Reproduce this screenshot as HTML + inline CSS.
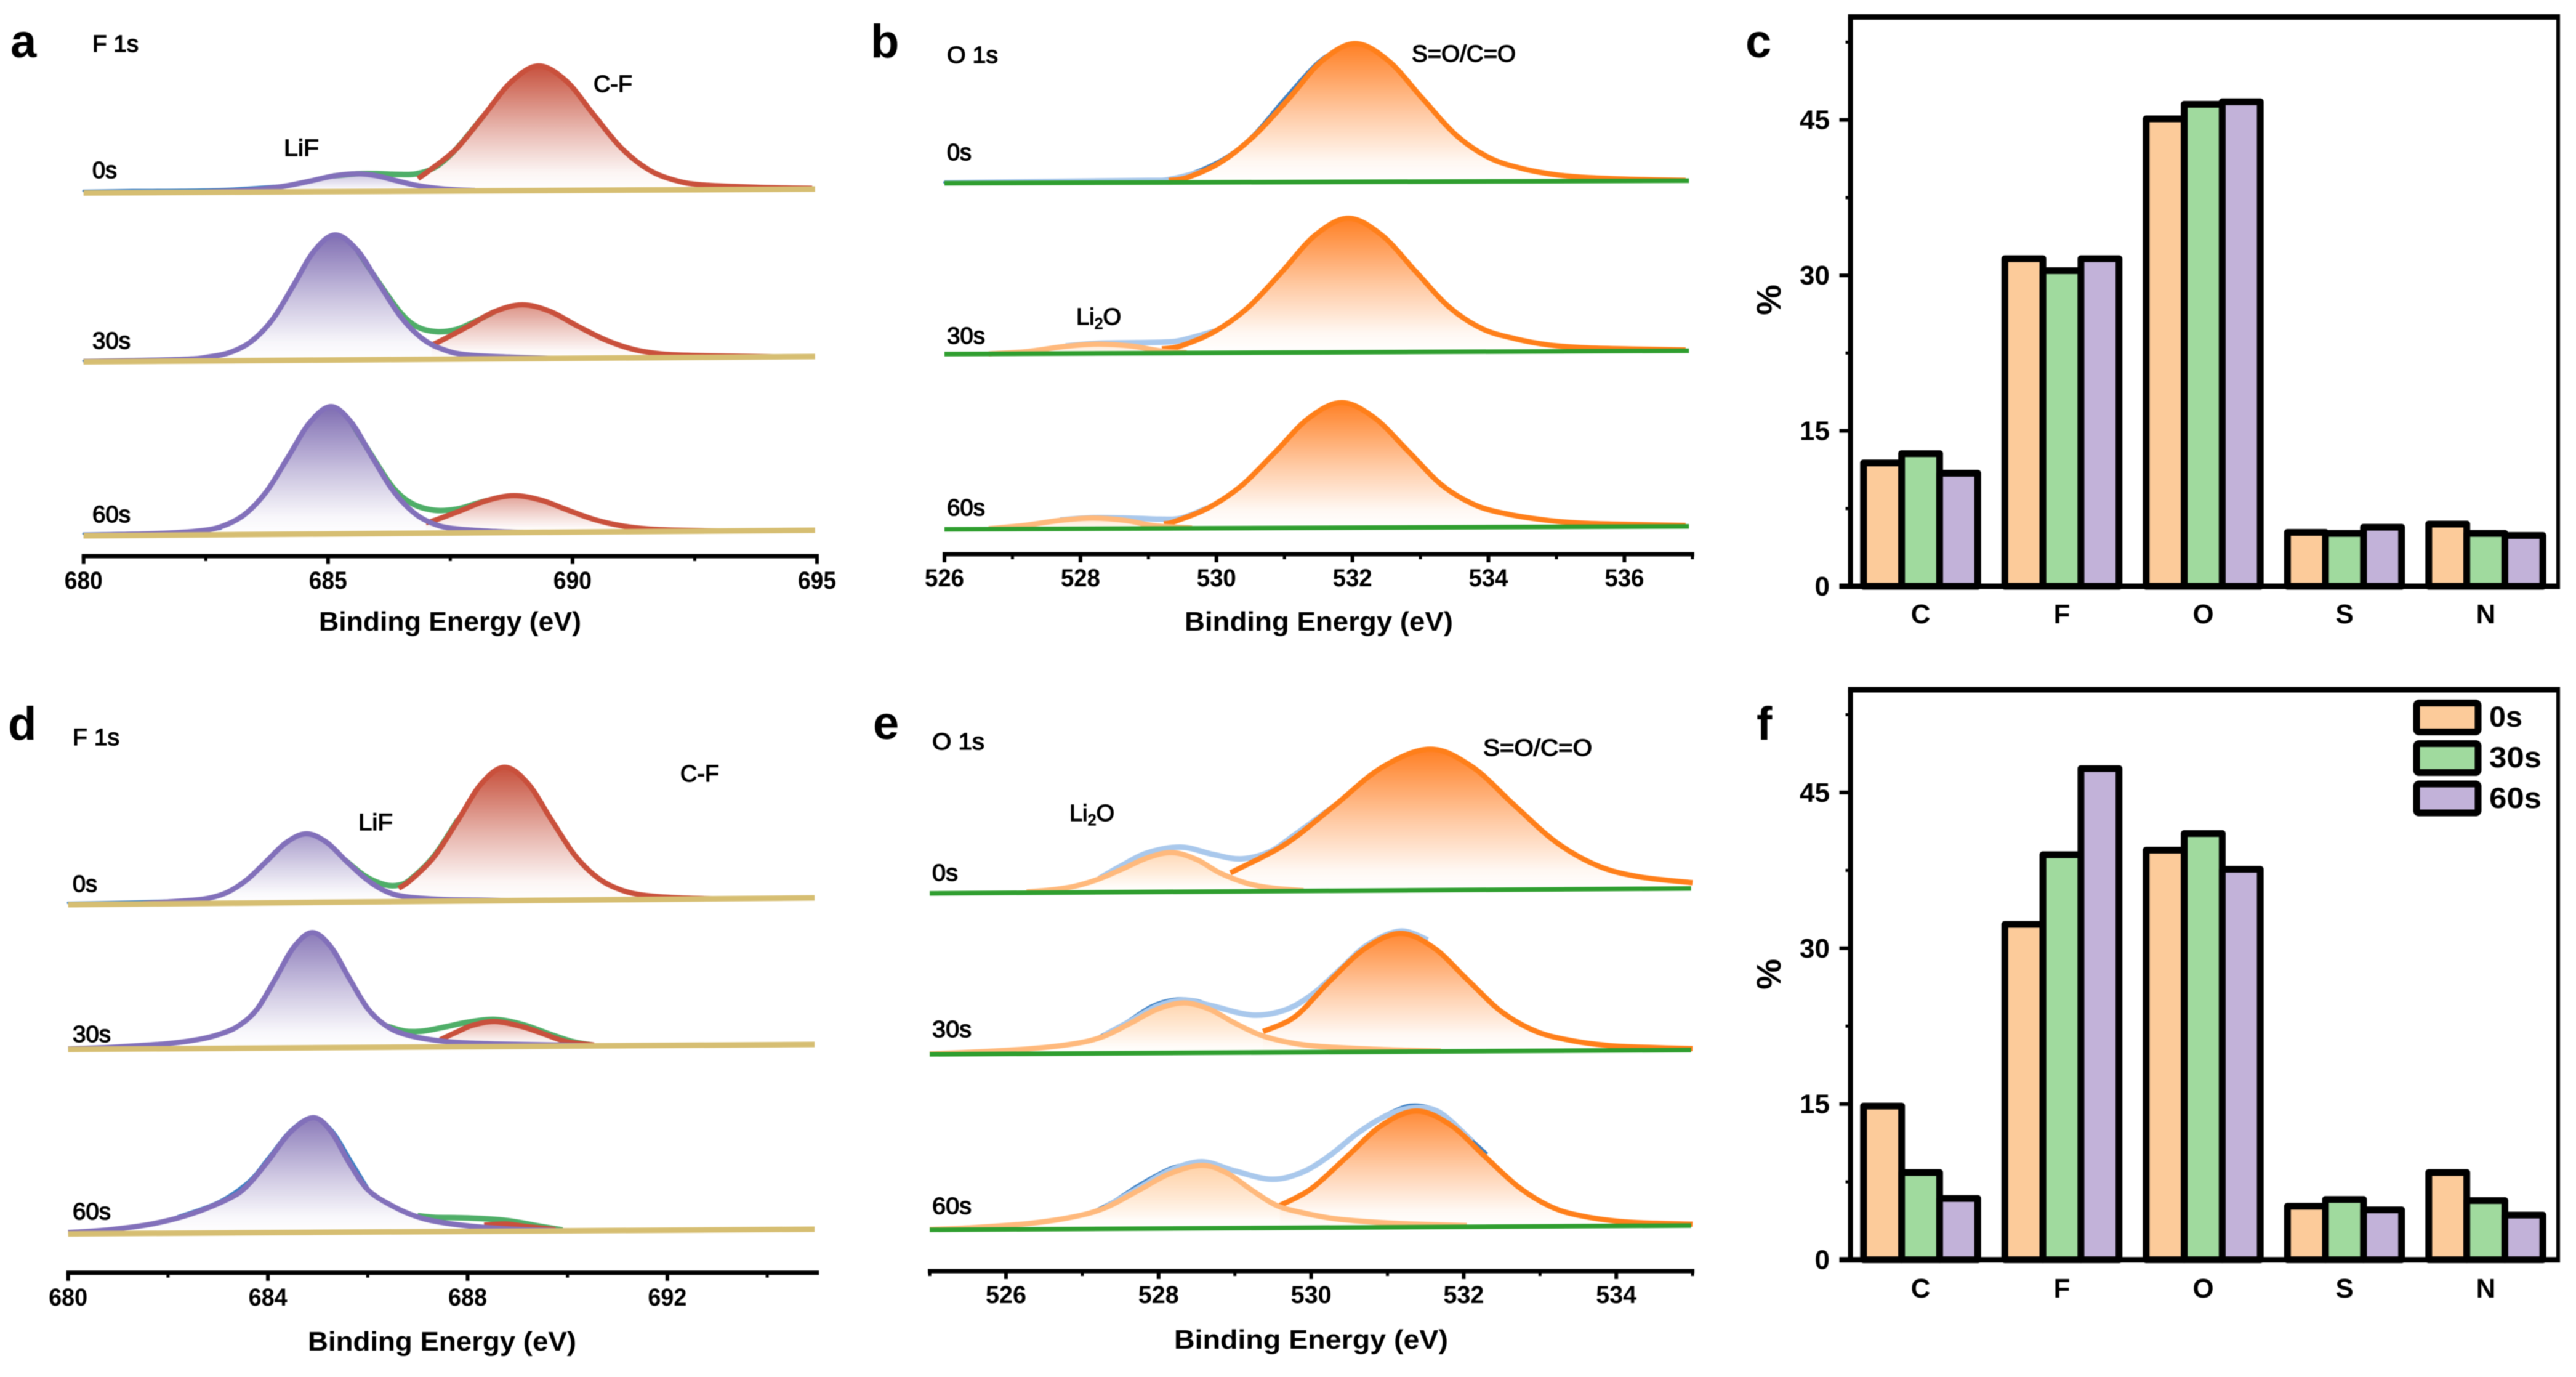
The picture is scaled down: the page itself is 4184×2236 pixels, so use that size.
<!DOCTYPE html>
<html lang="en">
<head>
<meta charset="utf-8">
<title>XPS spectra and elemental composition</title>
<style>
html,body{margin:0;padding:0;background:#fff;width:4184px;height:2236px;overflow:hidden}
svg{display:block;filter:blur(.9px)}
text{font-family:"Liberation Sans",sans-serif;fill:#000}
.letter{font-weight:700;font-size:76px}
.ann{font-weight:400;font-size:38px;stroke:#000;stroke-width:1.3}
.tick{font-weight:700;font-size:40px;text-anchor:middle}
.title{font-weight:700;font-size:44px}
.ylab{font-weight:700;font-size:44px;text-anchor:end}
.cat{font-weight:700;font-size:44px;text-anchor:middle}
.leg{font-weight:700;font-size:47px}
</style>
</head>
<body>
<svg id="fig" xmlns="http://www.w3.org/2000/svg" width="4184" height="2236" viewBox="0 0 4184 2236">
<defs>
<linearGradient id="grad-red" x1="0" y1="0" x2="0" y2="1"><stop offset="0" stop-color="#c64f3b"/><stop offset=".5" stop-color="#c64f3b" stop-opacity=".42"/><stop offset=".85" stop-color="#c64f3b" stop-opacity=".06"/><stop offset="1" stop-color="#c64f3b" stop-opacity="0"/></linearGradient>
<linearGradient id="grad-purple" x1="0" y1="0" x2="0" y2="1"><stop offset="0" stop-color="#7f6db2"/><stop offset=".5" stop-color="#7f6db2" stop-opacity=".42"/><stop offset=".85" stop-color="#7f6db2" stop-opacity=".06"/><stop offset="1" stop-color="#7f6db2" stop-opacity="0"/></linearGradient>
<linearGradient id="grad-orange" x1="0" y1="0" x2="0" y2="1"><stop offset="0" stop-color="#ff7f24"/><stop offset=".5" stop-color="#ff7f24" stop-opacity=".42"/><stop offset=".85" stop-color="#ff7f24" stop-opacity=".06"/><stop offset="1" stop-color="#ff7f24" stop-opacity="0"/></linearGradient>
<linearGradient id="grad-peach" x1="0" y1="0" x2="0" y2="1"><stop offset="0" stop-color="#ffb877"/><stop offset=".5" stop-color="#ffb877" stop-opacity=".5"/><stop offset=".85" stop-color="#ffb877" stop-opacity=".08"/><stop offset="1" stop-color="#ffb877" stop-opacity="0"/></linearGradient>
</defs>
<g id="marks"></g>

<text class="letter" x="17" y="93">a</text>
<text class="ann" x="150" y="84" textLength="75" lengthAdjust="spacingAndGlyphs">F 1s</text>
<text class="ann" x="150" y="289" textLength="40" lengthAdjust="spacingAndGlyphs">0s</text>
<text class="ann" x="150" y="566" textLength="62" lengthAdjust="spacingAndGlyphs">30s</text>
<text class="ann" x="150" y="848" textLength="62" lengthAdjust="spacingAndGlyphs">60s</text>
<text class="ann" x="461" y="253" textLength="57" lengthAdjust="spacingAndGlyphs">LiF</text>
<text class="ann" x="964" y="149" textLength="63" lengthAdjust="spacingAndGlyphs">C-F</text>
<text class="title" x="518" y="1024" textLength="426" lengthAdjust="spacingAndGlyphs">Binding Energy (eV)</text>

<text class="letter" x="1414" y="93">b</text>
<text class="ann" x="1538" y="102" textLength="83" lengthAdjust="spacingAndGlyphs">O 1s</text>
<text class="ann" x="1538" y="260" textLength="40" lengthAdjust="spacingAndGlyphs">0s</text>
<text class="ann" x="1538" y="558" textLength="62" lengthAdjust="spacingAndGlyphs">30s</text>
<text class="ann" x="1538" y="837" textLength="62" lengthAdjust="spacingAndGlyphs">60s</text>
<text class="ann" x="2293" y="100" textLength="169" lengthAdjust="spacingAndGlyphs">S=O/C=O</text>
<text class="ann" x="1748" y="527">Li<tspan font-size="25" dy="7">2</tspan><tspan dy="-7">O</tspan></text>
<text class="title" x="1924" y="1024" textLength="436" lengthAdjust="spacingAndGlyphs">Binding Energy (eV)</text>

<text class="letter" x="2835" y="93">c</text>
<text font-weight="700" font-size="56" text-anchor="middle" transform="translate(2892,487) rotate(-90)">%</text>

<text class="letter" x="13" y="1201">d</text>
<text class="ann" x="118" y="1210" textLength="76" lengthAdjust="spacingAndGlyphs">F 1s</text>
<text class="ann" x="118" y="1448" textLength="40" lengthAdjust="spacingAndGlyphs">0s</text>
<text class="ann" x="118" y="1692" textLength="62" lengthAdjust="spacingAndGlyphs">30s</text>
<text class="ann" x="118" y="1980" textLength="62" lengthAdjust="spacingAndGlyphs">60s</text>
<text class="ann" x="582" y="1348" textLength="56" lengthAdjust="spacingAndGlyphs">LiF</text>
<text class="ann" x="1105" y="1269" textLength="63" lengthAdjust="spacingAndGlyphs">C-F</text>
<text class="title" x="500" y="2193" textLength="436" lengthAdjust="spacingAndGlyphs">Binding Energy (eV)</text>

<text class="letter" x="1418" y="1200">e</text>
<text class="ann" x="1514" y="1217" textLength="85" lengthAdjust="spacingAndGlyphs">O 1s</text>
<text class="ann" x="1514" y="1430" textLength="42" lengthAdjust="spacingAndGlyphs">0s</text>
<text class="ann" x="1514" y="1684" textLength="64" lengthAdjust="spacingAndGlyphs">30s</text>
<text class="ann" x="1514" y="1971" textLength="64" lengthAdjust="spacingAndGlyphs">60s</text>
<text class="ann" x="2409" y="1227" textLength="177" lengthAdjust="spacingAndGlyphs">S=O/C=O</text>
<text class="ann" x="1737" y="1333">Li<tspan font-size="25" dy="7">2</tspan><tspan dy="-7">O</tspan></text>
<text class="title" x="1907" y="2190" textLength="445" lengthAdjust="spacingAndGlyphs">Binding Energy (eV)</text>

<text class="letter" x="2853" y="1201">f</text>
<text font-weight="700" font-size="56" text-anchor="middle" transform="translate(2892,1582) rotate(-90)">%</text>

<g id="legend">
<rect x="3925" y="1141.5" width="100" height="47" rx="4" fill="#fccb9a" stroke="#000" stroke-width="11"/>
<rect x="3925" y="1207.5" width="100" height="47" rx="4" fill="#a0da9e" stroke="#000" stroke-width="11"/>
<rect x="3925" y="1273" width="100" height="47" rx="4" fill="#c2b2d9" stroke="#000" stroke-width="11"/>
<text class="leg" x="4043" y="1180" textLength="54" lengthAdjust="spacingAndGlyphs">0s</text>
<text class="leg" x="4043" y="1246" textLength="85" lengthAdjust="spacingAndGlyphs">30s</text>
<text class="leg" x="4043" y="1312" textLength="85" lengthAdjust="spacingAndGlyphs">60s</text>
</g>
</svg>

<script>
// ---------- tick values ----------
const aTicks=[680,685,690,695];
const aMinor=[682.5,687.5,692.5];
const bTicks=[526,528,530,532,534,536];
const bMinor=[527,529,531,533,535,537];
const dTicks=[680,684,688,692];
const dMinor=[682,686,690,694];
const eTicks=[526,528,530,532,534];
const eMinor=[525,527,529,531,533,535];
const pctTicks=[0,15,30,45];
const pctMinor=[7.5,22.5,37.5,52.5];
const elements=['C','F','O','S','N'];

// ---------- panel a: [binding energy, intensity] ----------
const a0CF=[[686.84,30],[687.05,47],[687.62,99],[688.18,177],[688.75,257],[689.31,294],[689.88,257],[690.44,177],[691,99],[691.57,47],[692.14,21],[692.7,11],[693.8,5],[694.9,2]];
const a0LiF=[[682.5,1],[683.15,3],[683.64,7],[684.13,14],[684.62,25],[685.11,37],[685.6,42],[686,37],[686.4,25],[686.8,14],[687.2,7],[687.6,3],[688,1]];
const a0Env=[[685.11,37],[685.6,42],[686,42],[686.4,40],[686.8,41],[687.2,57],[687.62,99],[688.18,177]];
const a0Raw=[[680,5],[681,6],[682,6],[683,8],[684,15]];
const a1CF=[[687.12,34],[687.3,43],[687.85,76],[688.4,111],[688.97,127],[689.54,111],[690.1,76],[690.67,43],[691.24,20],[691.8,9],[692.4,5],[693.5,2],[694.2,0]];
const a1LiF=[[680,1],[682,4],[682.6,10],[683.03,21],[683.45,47],[683.88,99],[684.3,178],[684.72,258],[685.15,295],[685.6,258],[686.05,178],[686.5,99],[686.95,47],[687.4,21],[687.85,10],[688.7,4],[689.6,0]];
const a1Env=[[685.6,258],[686.05,180],[686.5,108],[686.84,76],[687.23,65],[687.62,70],[688,88],[688.4,111]];
const a1Raw=[[680,2],[681,5],[682,7],[682.8,12],[683.1,22]];
const a2CF=[[687,25],[687.15,29],[687.7,52],[688.25,76],[688.8,87],[689.35,76],[689.9,52],[690.45,29],[691,14],[691.55,6],[692.1,3],[693,0]];
const a2LiF=[[680,1],[681.5,4],[682.4,10],[682.86,21],[683.3,48],[683.74,101],[684.18,181],[684.62,262],[685.06,300],[685.48,262],[685.9,181],[686.33,101],[686.76,48],[687.18,21],[687.6,10],[688.4,3],[689,0]];
const a2Env=[[685.48,262],[685.9,183],[686.33,108],[686.72,70],[687.17,54],[687.62,56],[688,68],[688.25,76]];
const a2Raw=[[680,5],[681,6],[682,7],[682.8,14]];

// ---------- panel b ----------
const b0SO=[[529.3,5],[529.58,12],[530.07,48],[530.56,110],[531.06,196],[531.55,285],[532.04,326],[532.53,285],[533.03,196],[533.52,110],[534.01,56],[534.5,30],[535,15],[535.5,8],[536.1,4],[536.9,1]];
const b0Env=[[526,1],[528,4],[529,5],[529.3,7],[529.8,26]];
const b0Raw=[[526,2],[527.5,5],[528.5,7],[529.3,9],[530,48],[530.5,106],[531,198],[531.5,285],[531.9,322]];
const b1SO=[[529.2,10],[529.48,17],[529.97,50],[530.46,106],[530.96,190],[531.45,276],[531.94,316],[532.43,276],[532.93,190],[533.42,106],[533.91,54],[534.4,30],[534.9,15],[535.46,8],[536.1,5],[536.9,2]];
const b1Li2O=[[526.65,0],[527.2,5],[527.78,17],[528.26,22],[528.75,17],[529.15,6],[529.56,1]];
const b1Env=[[527.78,18],[528.26,24],[528.83,25],[529.23,26],[529.48,30],[529.97,51]];
const b2SO=[[529.23,11],[529.38,16],[529.87,47],[530.36,99],[530.86,178],[531.35,258],[531.84,295],[532.33,258],[532.83,178],[533.32,99],[533.81,52],[534.3,30],[534.9,15],[535.46,8],[536.1,5],[536.9,2]];
const b2Li2O=[[526.65,1],[527.2,9],[527.7,20],[528.18,25],[528.67,19],[529.07,7],[529.64,1]];
const b2Env=[[527.7,21],[528.18,26],[528.83,24],[529.15,22],[529.48,24],[529.87,48]];

// ---------- panel d ----------
const d0CF=[[686.62,30],[686.86,48],[687.33,100],[687.8,180],[688.27,262],[688.74,299],[689.21,262],[689.68,180],[690.15,100],[690.62,48],[691.09,21],[691.56,9],[692.2,3],[693,0]];
const d0LiF=[[681.5,1],[682.3,6],[682.78,11],[683.18,24],[683.58,52],[683.97,93],[684.37,135],[684.77,154],[685.17,135],[685.56,93],[685.96,52],[686.35,24],[686.75,11],[687.5,4],[688.2,2],[688.8,0]];
const d0Env=[[685.56,93],[685.96,57],[686.35,38],[686.62,37],[686.86,50],[687.33,102],[687.8,182]];
const d0Raw=[[680,4],[681,5],[682,7],[682.6,10]];
const d1CF=[[687.45,16],[687.78,33],[688.1,48],[688.55,56],[689.1,44],[689.54,27],[689.98,10],[690.53,2]];
const d1LiF=[[680,1],[680.84,4],[681.94,11],[682.6,20],[683.04,32],[683.41,50],[683.78,87],[684.15,155],[684.52,226],[684.89,258],[685.26,226],[685.63,155],[686,87],[686.37,48],[686.74,29],[687.23,17],[687.78,10],[688.55,6],[689.65,3],[690.5,0]];
const d1Env=[[686.37,48],[686.74,36],[687.12,36],[687.56,45],[688,55],[688.55,61],[689.1,49],[689.65,27],[690.1,10],[690.5,2]];
const d2CF=[[688.33,14],[688.77,16],[689.2,10],[689.76,3]];
const d2LiF=[[680,3],[680.84,9],[681.72,22],[682.5,44],[683.26,79],[683.6,107],[684,160],[684.45,225],[684.91,257],[685.27,225],[685.63,155],[686,95],[686.46,60],[687,33],[687.56,19],[688.33,9],[689.2,3],[690.1,0]];
const d2Env=[[687,36],[687.34,32],[688,30],[688.77,24],[689.43,11],[689.9,2]];
const d2Raw=[[682.2,38],[683,70],[683.6,115],[684,168],[684.45,230],[684.91,260],[685.3,228],[685.65,165],[686,100]];

// ---------- panel e ----------
const e0SO=[[528.94,42],[529.04,50],[529.67,106],[530.3,190],[530.93,276],[531.56,316],[532.11,276],[532.66,190],[533.21,106],[533.76,52],[534.3,27],[535,13]];
const e0Li2O=[[526.27,2],[526.58,6],[526.9,14],[527.22,30],[527.54,53],[527.86,77],[528.18,88],[528.5,72],[528.8,42],[529.16,18],[529.5,7],[529.9,1]];
const e0Env=[[527.22,31],[527.5,58],[527.86,88],[528.3,100],[528.72,83],[529.08,73],[529.45,88],[529.8,128],[530.3,190]];
const e1SO=[[529.37,47],[529.79,80],[530.25,160],[530.71,232],[531.17,265],[531.61,232],[532.05,160],[532.49,89],[532.93,45],[533.37,24],[533.9,11],[534.5,6],[535,3]];
const e1Li2O=[[525,1],[525.5,4],[526.3,11],[526.9,22],[527.28,38],[527.63,67],[527.98,98],[528.33,112],[528.66,98],[528.99,67],[529.32,40],[529.65,24],[530.1,13],[530.96,5],[531.7,1]];
const e1Env=[[527.28,40],[527.63,72],[527.98,105],[528.33,118],[528.7,105],[529.23,84],[529.66,95],[530.02,130],[530.38,185],[530.74,240],[531.17,270],[531.53,250]];
const e1Raw=[[527.2,36],[527.55,68],[527.9,106],[528.2,121],[528.5,118],[528.8,100],[529.1,90]];
const e2SO=[[529.59,50],[530,87],[530.46,157],[530.92,228],[531.38,260],[531.83,228],[532.28,157],[532.73,87],[533.18,41],[533.63,20],[534.2,8],[535,3]];
const e2Li2O=[[525,1],[525.5,4],[526.3,13],[526.88,27],[527.3,47],[527.73,85],[528.15,123],[528.57,141],[528.9,123],[529.22,85],[529.55,50],[529.9,33],[530.3,20],[530.8,12],[531.32,7],[532.04,3]];
const e2Env=[[527.3,48],[527.73,90],[528.15,130],[528.57,149],[529,128],[529.48,109],[529.88,124],[530.24,161],[530.6,210],[530.96,248],[531.32,267],[531.68,257],[532.11,192]];
const e2RawLow=[[527.1,36],[527.4,62],[527.75,100],[528.15,136],[528.5,150]];
const e2RawTop=[[530.96,252],[531.3,274],[531.65,262],[532,212],[532.3,165]];

// ---------- bar panels ----------
const cSeries0s=[11.9,31.6,45.1,5.2,6.0];
const cSeries30s=[12.8,30.45,46.5,5.1,5.1];
const cSeries60s=[10.9,31.6,46.75,5.7,4.9];
const fSeries0s=[14.8,32.3,39.45,5.15,8.4];
const fSeries30s=[8.4,39,41.05,5.8,5.7];
const fSeries60s=[5.9,47.3,37.6,4.8,4.3];

// ---------- rendering ----------
const NS='http://www.w3.org/2000/svg';
const root=document.getElementById('marks');
function make(tag,name,attrs,parent){
  const el=document.createElementNS(NS,tag);
  
  
  for(const k in attrs)el.setAttribute(k,attrs[k]);
  (parent||root).appendChild(el);
  return el;
}
function smooth(p){
  let d='M'+p[0][0].toFixed(1)+' '+p[0][1].toFixed(1);
  for(let i=0;i<p.length-1;i++){
    const a=p[Math.max(i-1,0)],b=p[i],c=p[i+1],e=p[Math.min(i+2,p.length-1)];
    const c1x=b[0]+(c[0]-a[0])/6,c1y=b[1]+(c[1]-a[1])/6,c2x=c[0]-(e[0]-b[0])/6,c2y=c[1]-(e[1]-b[1])/6;
    d+='C'+c1x.toFixed(1)+' '+c1y.toFixed(1)+' '+c2x.toFixed(1)+' '+c2y.toFixed(1)+' '+c[0].toFixed(1)+' '+c[1].toFixed(1);
  }
  return d;
}
function spectrumPanel(cfg){
  const g=make('g',cfg.id+'-spectra-panel',{});
  const xE=E=>cfg.x0+(E-cfg.E0)*cfg.pxPerE;
  cfg.spectra.forEach(s=>{
    const baseY=E=>s.L+(s.R-s.L)*(E-cfg.spanA)/(cfg.spanB-cfg.spanA);
    const yV=(E,v)=>baseY(E)-v*cfg.k;
    const pts=arr=>arr.map(q=>[xE(q[0]),yV(q[0],q[1])]);
    const sg=make('g',cfg.id+'-spectrum-'+s.name,{},g);
    (s.raw||[]).forEach(r=>{
      make('path',cfg.id+'-raw-data-'+s.name,{d:smooth(pts(r)),fill:'none',stroke:'#3d80c4','stroke-width':4,'stroke-linecap':'round'},sg);
    });
    make('path',cfg.id+'-envelope-'+s.name,{d:smooth(pts(s.env)),fill:'none',stroke:cfg.envColor,'stroke-width':9,'stroke-linecap':'butt'},sg);
    s.comps.forEach(c=>{
      const p=pts(c.data),first=c.data[0][0],last=c.data[c.data.length-1][0];
      const maxH=Math.max(...c.data.map(q=>q[1]));
      const area=smooth(p)+'L'+xE(last).toFixed(1)+' '+baseY(last).toFixed(1)+'L'+xE(first).toFixed(1)+' '+baseY(first).toFixed(1)+'Z';
      make('path',cfg.id+'-'+c.label+'-fill-'+s.name,{d:area,fill:'url(#'+c.grad+')',stroke:'none','fill-opacity':Math.min(1,.35+.65*maxH/300)},sg);
    });
    s.comps.forEach(c=>{
      make('path',cfg.id+'-'+c.label+'-peak-'+s.name,{d:smooth(pts(c.data)),fill:'none',stroke:c.color,'stroke-width':8.5,'stroke-linecap':'butt'},sg);
    });
    make('line',cfg.id+'-baseline-'+s.name,{x1:xE(cfg.spanA),y1:s.L,x2:xE(cfg.spanB),y2:s.R,stroke:cfg.baseColor,'stroke-width':cfg.baseWidth},sg);
  });
  const ax=make('g',cfg.id+'-x-axis',{},g);
  make('line',cfg.id+'-x-axis-line',{x1:xE(cfg.axisStart)-3,y1:cfg.axisY,x2:xE(cfg.axisEnd)+3,y2:cfg.axisY,stroke:'#000','stroke-width':7},ax);
  cfg.ticks.forEach(t=>{
    make('line',cfg.id+'-major-tick',{x1:xE(t),y1:cfg.axisY,x2:xE(t),y2:cfg.axisY+13,stroke:'#000','stroke-width':6},ax);
    const lab=make('text',cfg.id+'-tick-label',{class:'tick',x:xE(t),y:cfg.labelY,textLength:cfg.labelW,lengthAdjust:'spacingAndGlyphs'},ax);
    lab.textContent=t;
  });
  cfg.minor.forEach(t=>{
    make('line',cfg.id+'-minor-tick',{x1:xE(t),y1:cfg.axisY,x2:xE(t),y2:cfg.axisY+8,stroke:'#000','stroke-width':5},ax);
  });
}
function barPanel(cfg){
  const g=make('g',cfg.id+'-bar-panel',{});
  const yV=v=>cfg.y0-v*cfg.pxPerV;
  const colors=['#fccb9a','#a0da9e','#c2b2d9'],names=['0s','30s','60s'];
  const L=3005.6,R=4155,W=61.8,C0=3119.5,STEP=229.5;
  cfg.series.forEach((vals,si)=>{
    vals.forEach((v,ci)=>{
      const cx=C0+ci*STEP+(si-1)*W;
      make('rect','bar-'+cfg.id+'-'+elements[ci]+'-'+names[si],{x:cx-W/2,y:yV(v),width:W,height:cfg.y0-yV(v),fill:colors[si],stroke:'#000','stroke-width':11,'stroke-linejoin':'round'},g);
    });
  });
  make('line',cfg.id+'-frame-top',{x1:L-4,y1:cfg.top,x2:R+3,y2:cfg.top,stroke:'#000','stroke-width':9},g);
  make('line',cfg.id+'-frame-left',{x1:L,y1:cfg.top,x2:L,y2:cfg.y0,stroke:'#000','stroke-width':8},g);
  make('line',cfg.id+'-frame-right',{x1:R,y1:cfg.top,x2:R,y2:cfg.y0,stroke:'#000','stroke-width':6},g);
  make('line',cfg.id+'-x-axis-line',{x1:L-18,y1:cfg.y0,x2:R+3,y2:cfg.y0,stroke:'#000','stroke-width':9},g);
  pctTicks.forEach(t=>{
    make('line',cfg.id+'-y-major-tick',{x1:L-18,y1:yV(t),x2:L,y2:yV(t),stroke:'#000','stroke-width':6},g);
    const lab=make('text',cfg.id+'-y-tick-label',{class:'ylab',x:2972,y:yV(t)+15},g);
    lab.textContent=t;
  });
  pctMinor.forEach(t=>{
    make('line',cfg.id+'-y-minor-tick',{x1:L-8,y1:yV(t),x2:L,y2:yV(t),stroke:'#000','stroke-width':5},g);
  });
  elements.forEach((c,i)=>{
    const lab=make('text',cfg.id+'-category-label',{class:'cat',x:C0+i*STEP,y:cfg.catY},g);
    lab.textContent=c;
  });
}
const RED='#c9503c',PUR='#8270ba',ORG='#ff7f1a',PEA='#ffb97c',GRN='#4fae68',BLU='#a9c8ec',GOLD='#d6be72',DGRN='#2f9e2f';
const cf=d=>({data:d,label:'c-f',grad:'grad-red',color:RED});
const lif=d=>({data:d,label:'lif',grad:'grad-purple',color:PUR});
const so=d=>({data:d,label:'s-o',grad:'grad-orange',color:ORG});
const li2o=d=>({data:d,label:'li2o',grad:'grad-peach',color:PEA});
spectrumPanel({id:'a',x0:135.7,E0:680,pxPerE:79.42,axisStart:680,axisEnd:695,axisY:903,labelY:956,labelW:62,k:.6887,spanA:680,spanB:694.96,baseColor:GOLD,baseWidth:9,envColor:GRN,ticks:aTicks,minor:aMinor,spectra:[
 {name:'0s',L:313.4,R:307,raw:[a0Raw],env:a0Env,comps:[cf(a0CF),lif(a0LiF)]},
 {name:'30s',L:587.5,R:579,raw:[a1Raw],env:a1Env,comps:[cf(a1CF),lif(a1LiF)]},
 {name:'60s',L:870,R:861,raw:[a2Raw],env:a2Env,comps:[cf(a2CF),lif(a2LiF)]}]});
spectrumPanel({id:'b',x0:1534,E0:526,pxPerE:110.44,axisStart:526,axisEnd:537,axisY:900,labelY:952,labelW:64,k:.6887,spanA:526,spanB:536.95,baseColor:DGRN,baseWidth:7.5,envColor:BLU,ticks:bTicks,minor:bMinor,spectra:[
 {name:'0s',L:297.5,R:293.4,raw:[b0Raw],env:b0Env,comps:[so(b0SO)]},
 {name:'30s',L:575,R:569.6,env:b1Env,comps:[so(b1SO),li2o(b1Li2O)]},
 {name:'60s',L:859.5,R:854.7,env:b2Env,comps:[so(b2SO),li2o(b2Li2O)]}]});
spectrumPanel({id:'d',x0:110.7,E0:680,pxPerE:81.1,axisStart:680,axisEnd:695,axisY:2066.7,labelY:2120,labelW:63,k:.7246,spanA:680,spanB:694.95,baseColor:GOLD,baseWidth:9,envColor:GRN,ticks:dTicks,minor:dMinor,spectra:[
 {name:'0s',L:1469,R:1458,raw:[d0Raw],env:d0Env,comps:[cf(d0CF),lif(d0LiF)]},
 {name:'30s',L:1704,R:1696,env:d1Env,comps:[cf(d1CF),lif(d1LiF)]},
 {name:'60s',L:2003.6,R:1996,raw:[d2Raw],env:d2Env,comps:[cf(d2CF),lif(d2LiF)]}]});
spectrumPanel({id:'e',x0:1634,E0:526,pxPerE:123.9,axisStart:525,axisEnd:535,axisY:2064,labelY:2116,labelW:66,k:.7246,spanA:525,spanB:534.98,baseColor:DGRN,baseWidth:7.5,envColor:BLU,ticks:eTicks,minor:eMinor,spectra:[
 {name:'0s',L:1450.7,R:1442.8,env:e0Env,comps:[so(e0SO),li2o(e0Li2O)]},
 {name:'30s',L:1712,R:1705,raw:[e1Raw],env:e1Env,comps:[so(e1SO),li2o(e1Li2O)]},
 {name:'60s',L:1997,R:1990,raw:[e2RawLow,e2RawTop],env:e2Env,comps:[so(e2SO),li2o(e2Li2O)]}]});
barPanel({id:'c',y0:952,pxPerV:16.83,top:27.5,catY:1012,series:[cSeries0s,cSeries30s,cSeries60s]});
barPanel({id:'f',y0:2045.6,pxPerV:16.86,top:1120,catY:2107,series:[fSeries0s,fSeries30s,fSeries60s]});
</script>
</body>
</html>
